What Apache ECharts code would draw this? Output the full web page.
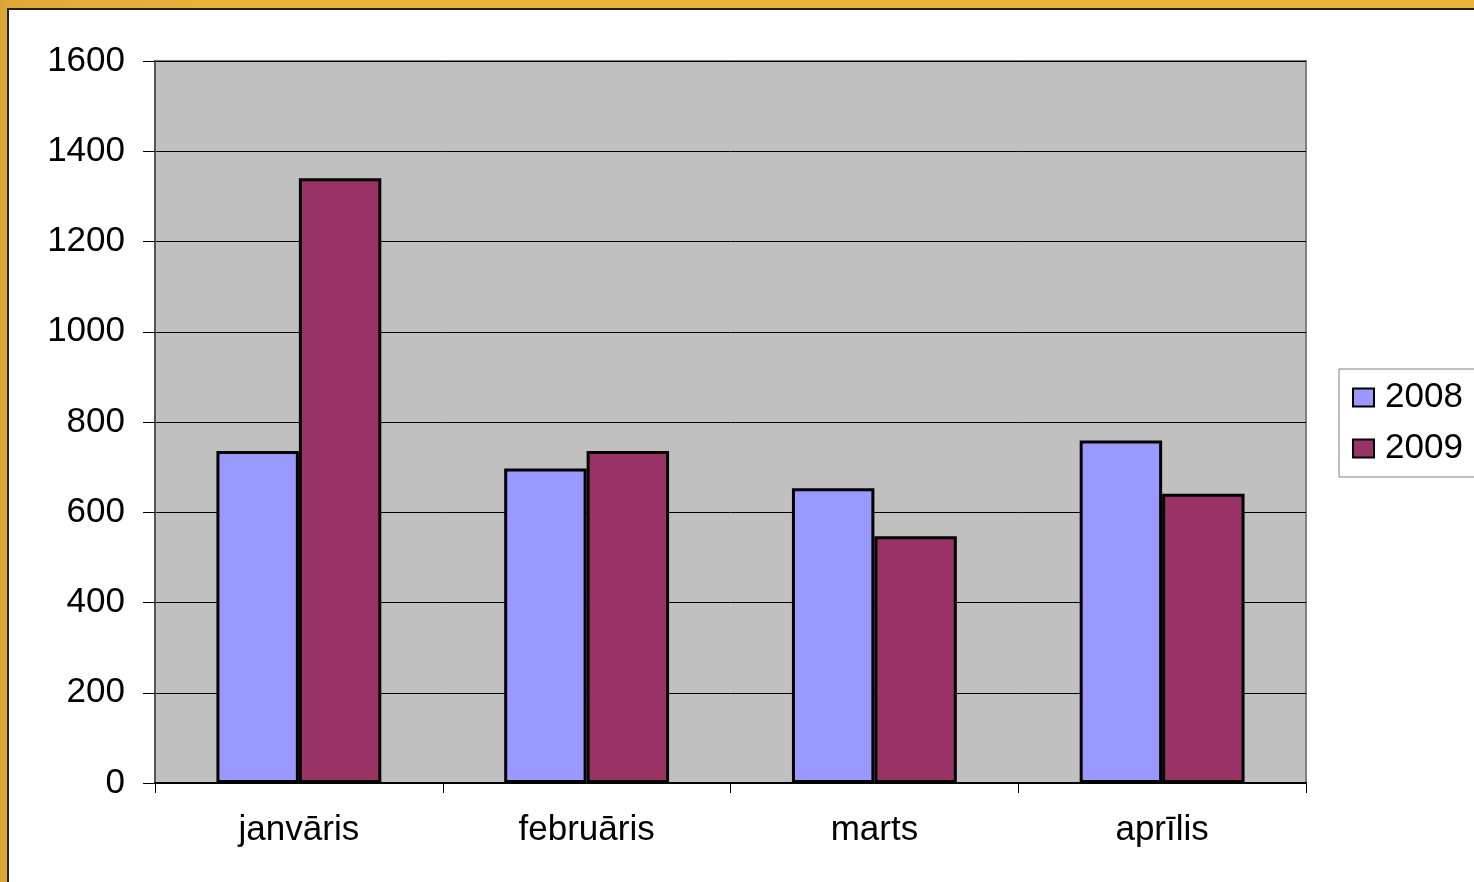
<!DOCTYPE html>
<html>
<head>
<meta charset="utf-8">
<script src="https://cdn.jsdelivr.net/npm/echarts@6/dist/echarts.min.js"></script>
<style>
  html, body { margin: 0; padding: 0; }
  body { width: 1474px; height: 882px; position: relative; overflow: hidden;
         background: linear-gradient(90deg, #d6a23a 0px, #e0a936 8px, #e9b13a 200px, #eab33c 100%); }
  #panel { position: absolute; left: 7px; top: 8px; width: 1467px; height: 874px;
           background: #ffffff; border-left: 2px solid #222; border-top: 2px solid #222; box-sizing: border-box; }
  #chart { position: absolute; left: 0; top: 0; width: 1474px; height: 882px; }
</style>
</head>
<body>
<div id="panel"></div>
<div id="chart"></div>
<script>
const categories = ['janvāris', 'februāris', 'marts', 'aprīlis'];
const values2008 = [736, 697, 653, 759];
const values2009 = [1340, 736, 547, 641];
const seriesNames = ['2008', '2009'];
const yTicks = { min: 0, max: 1600, interval: 200 };

const chart = echarts.init(document.getElementById('chart'), null, { renderer: 'canvas' });
const font = 'Liberation Sans, Arial, sans-serif';
const option = {
  backgroundColor: 'transparent',
  animation: false,
  textStyle: { fontFamily: font },
  grid: {
    left: 155, top: 61, width: 1151, height: 722,
    show: true, backgroundColor: '#c0c0c0', borderColor: '#808080', borderWidth: 2
  },
  legend: {
    orient: 'vertical',
    left: 1339, top: 369,
    backgroundColor: '#ffffff',
    borderColor: '#808080', borderWidth: 1,
    padding: [11, 20, 11, 13],
    itemWidth: 21, itemHeight: 18, itemGap: 16,
    icon: 'rect',
    textStyle: { fontSize: 35, color: '#000', fontFamily: font, padding: [0, 0, 0, 6] },
    data: seriesNames
  },
  xAxis: {
    type: 'category',
    data: categories,
    axisLine: { show: true, lineStyle: { color: '#000', width: 2 } },
    axisTick: { show: true, length: 10, lineStyle: { color: '#000', width: 1 } },
    axisLabel: { fontSize: 35, color: '#000', margin: 30, fontFamily: font },
    splitLine: { show: false }
  },
  yAxis: {
    type: 'value',
    min: yTicks.min, max: yTicks.max, interval: yTicks.interval,
    axisLine: { show: true, lineStyle: { color: '#555', width: 2 } },
    axisTick: { show: true, length: 12, lineStyle: { color: '#000', width: 1 } },
    axisLabel: { fontSize: 35, color: '#000', margin: 30, fontFamily: font,
                 formatter: function (v) { return String(v); } },
    splitLine: { show: true, lineStyle: { color: '#000', width: 1 } }
  },
  series: [
    {
      name: seriesNames[0], type: 'bar', data: values2008,
      barGap: '0%', barCategoryGap: '42.7%',
      itemStyle: { color: '#9999ff', borderColor: '#000', borderWidth: 3 }
    },
    {
      name: seriesNames[1], type: 'bar', data: values2009,
      barGap: '0%', barCategoryGap: '42.7%',
      itemStyle: { color: '#993366', borderColor: '#000', borderWidth: 3 }
    }
  ]
};
chart.setOption(option);
</script>
</body>
</html>
